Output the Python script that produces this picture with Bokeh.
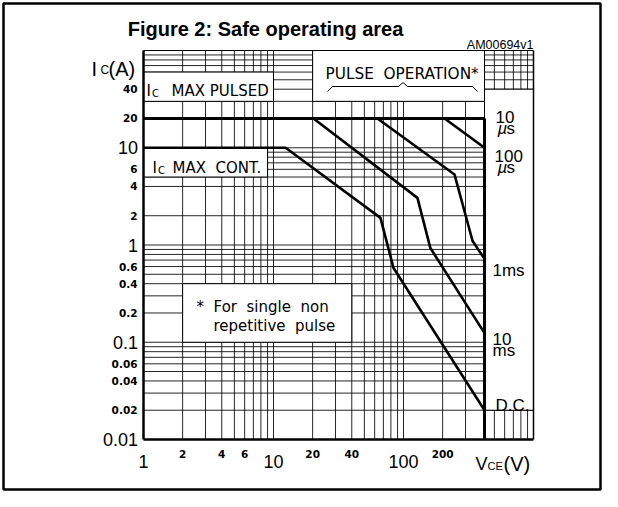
from bokeh.plotting import figure
from bokeh.core.properties import value
from bokeh.embed import file_html
from bokeh.resources import INLINE

# ---------------- data ----------------
V_MIN, V_MAX = 1, 1000          # VCE axis span (V)
I_MIN, I_MAX = 0.01, 100        # IC axis span (A)

x_grid = [2, 3, 4, 5, 6, 7, 8, 9, 10, 20, 30, 40, 50, 60, 70, 80, 90, 100,
          200, 300, 500, 600, 700, 800, 900]
y_grid = [0.02, 0.03, 0.04, 0.05, 0.06, 0.07, 0.08, 0.09, 0.1,
          0.2, 0.3, 0.4, 0.5, 0.6, 0.7, 0.8, 0.9, 1,
          2, 4, 5, 6, 7, 8, 9, 10,
          30, 40, 50, 60, 70, 80, 90]

vce_max = 420
ic_pulsed = 20

dc_v = [1, 12.4, 66.5, 83.8, 420]
dc_i = [10, 10, 1.9, 0.58, 0.02]
ms10_v = [20.3, 128, 161, 420]
ms10_i = [20, 3.05, 0.93, 0.124]
ms1_v = [63, 247, 340, 420]
ms1_i = [20, 5.3, 1.1, 0.72]
us100_v = [207, 420]
us100_i = [20, 10]

# white label boxes (data units)
box_left = [1, 1, 20, 420, 2]
box_right = [10, 9, 420, 1000, 40]
box_bottom = [30, 5, 30, 0.02, 0.1]
box_top = [60, 10, 100, 40, 0.4]

y_big_ticks = [10, 1, 0.1, 0.01]
y_big_labels = ["10", "1", "0.1", "0.01"]
y_small_ticks = [40, 20, 6, 4, 2, 0.6, 0.4, 0.2, 0.06, 0.04, 0.02]
y_small_labels = ["40", "20", "6", "4", "2", "0.6", "0.4", "0.2", "0.06", "0.04", "0.02"]
x_big_ticks = [1, 10, 100]
x_big_labels = ["1", "10", "100"]
x_small_ticks = [2, 4, 6, 20, 40, 200]
x_small_labels = ["2", "4", "6", "20", "40", "200"]

# ---------------- layout ----------------
W, H = 602, 491
PAGE = 0                      # canvas offset in the picture
PL, PR, PT, PB = 143, 533, 50, 439   # plot area in picture pixels
DX = (PR - PL) / 3.0          # px per decade (x)
DY = (PB - PT) / 4.0          # px per decade (y)

def X(px):
    return 10 ** ((px - PL) / DX)

def Y(py):
    return 10 ** (2 - (py - PT) / DY)

x_start, x_end = X(PAGE), X(PAGE + W)
y_start, y_end = Y(PAGE + H), Y(PAGE)

p = figure(width=W, height=H, x_axis_type="log", y_axis_type="log",
           x_range=(x_start, x_end), y_range=(y_start, y_end),
           x_axis_location=None, y_axis_location=None,
           toolbar_location=None, output_backend="svg", min_border=0,
           outline_line_color=None,
           background_fill_color="white", border_fill_color="white")
p.grid.visible = False
p.title.visible = False

# outer frame of the figure panel
p.quad(left=[X(3)], right=[X(600)], bottom=[Y(489)], top=[Y(3)],
       fill_color=None, line_color="black", line_width=2.5)

# grid
p.segment(x0=x_grid, y0=[I_MIN] * len(x_grid), x1=x_grid, y1=[I_MAX] * len(x_grid),
          line_color="black", line_width=1, line_alpha=0.85)
p.segment(x0=[V_MIN] * len(y_grid), y0=y_grid, x1=[V_MAX] * len(y_grid), y1=y_grid,
          line_color="black", line_width=1, line_alpha=0.85)

# boxes
p.quad(left=box_left, right=box_right, bottom=box_bottom, top=box_top,
       fill_color="white", line_color="black", line_width=1)

# plot border
p.line([V_MIN, V_MAX], [I_MAX, I_MAX], line_color="black", line_width=1)
p.line([V_MAX, V_MAX], [I_MIN, I_MAX], line_color="black", line_width=1.5)
p.line([V_MIN, V_MIN], [I_MIN, I_MAX], line_color="black", line_width=2.5)
p.line([V_MIN, V_MAX], [I_MIN, I_MIN], line_color="black", line_width=2.5)

# limits and curves
p.line([V_MIN, vce_max], [ic_pulsed, ic_pulsed], line_color="black", line_width=3)
p.line([vce_max, vce_max], [I_MIN, ic_pulsed], line_color="black", line_width=3)
for xs, ys in [(dc_v, dc_i), (ms10_v, ms10_i), (ms1_v, ms1_i), (us100_v, us100_i)]:
    p.line(xs, ys, line_color="black", line_width=2.6)

# brace under PULSE OPERATION
brace_px = [327, 332, 398, 402.5, 407, 472, 477]
brace_py = [91, 86, 86, 82, 86, 86, 91]
p.line([X(v) for v in brace_px], [Y(v) for v in brace_py], line_color="black", line_width=1)

SANS = value("Liberation Sans")
ISO = value("DejaVu Sans")
SP2 = "\u00a0 "   # wide gap (two spaces that SVG keeps)

def txt(x, y, s, font=SANS, size="17px", align="left", baseline="alphabetic", style="normal"):
    p.text(x=x, y=y, text=s, text_font=font, text_font_size=size, text_align=align,
           text_baseline=baseline, text_font_style=style, text_color="black")

# title
txt([X(265)], [Y(28)], ["Figure 2: Safe operating area"], size="20px", align="center", style="bold")
txt([X(533)], [Y(44)], ["AM00694v1"], size="12.5px", align="right")

# y-axis labels
txt([X(137.5)] * len(y_big_ticks), y_big_ticks, y_big_labels, size="18px", align="right", baseline="middle")
txt([X(137)] * len(y_small_ticks), y_small_ticks, y_small_labels, font=ISO, size="10.5px",
    align="right", baseline="middle", style="bold")
# x-axis labels
txt(x_big_ticks, [Y(460.5)] * len(x_big_ticks), x_big_labels, size="18px", align="center")
txt(x_small_ticks, [Y(453)] * len(x_small_ticks), x_small_labels, font=ISO, size="10.5px",
    align="center", style="bold")

# axis titles
txt([X(91)], [Y(68)], ["I"], size="20px")
txt([X(100)], [Y(69)], ["C"], size="12px")
txt([X(108)], [Y(68)], ["(A)"], size="20px")
txt([X(475)], [Y(463)], ["V"], size="18px")
txt([X(487)], [Y(465)], ["CE"], size="11px")
txt([X(503)], [Y(463)], ["(V)"], size="20px")

# box texts
txt([X(146)], [Y(90)], ["I"], font=ISO, size="15px")
txt([X(151.5)], [Y(93)], ["C"], font=ISO, size="10px")
txt([X(171)], [Y(90)], ["MAX PULSED"], font=ISO, size="15px")
txt([X(152)], [Y(167)], ["I"], font=ISO, size="15px")
txt([X(157.5)], [Y(170)], ["C"], font=ISO, size="10px")
txt([X(172)], [Y(167)], ["MAX" + SP2 + "CONT."], font=ISO, size="15px")
txt([X(325)], [Y(73)], ["PULSE" + SP2 + "OPERATION*"], font=ISO, size="15.3px")
txt([X(196)], [Y(306)], ["*" + SP2 + "For" + SP2 + "single" + SP2 + "non"], font=ISO, size="15px")
txt([X(213)], [Y(325)], ["repetitive" + SP2 + "pulse"], font=ISO, size="15px")

# curve labels
cl_px = [495, 494, 492, 492, 492, 495]
cl_py = [116, 155, 270, 338, 350, 405]
cl_text = ["10", "100", "1ms", "10", "ms", "D.C."]
txt([X(v) for v in cl_px], [Y(v) for v in cl_py], cl_text, size="17px")
mu_px = [497, 497]
mu_py = [128, 167]
txt([X(v) for v in mu_px], [Y(v) for v in mu_py], ["µ", "µ"], size="17px", style="italic")
txt([X(v + 9) for v in mu_px], [Y(v) for v in mu_py], ["s", "s"], size="17px")

open("out.html", "w").write(file_html(p, INLINE))
